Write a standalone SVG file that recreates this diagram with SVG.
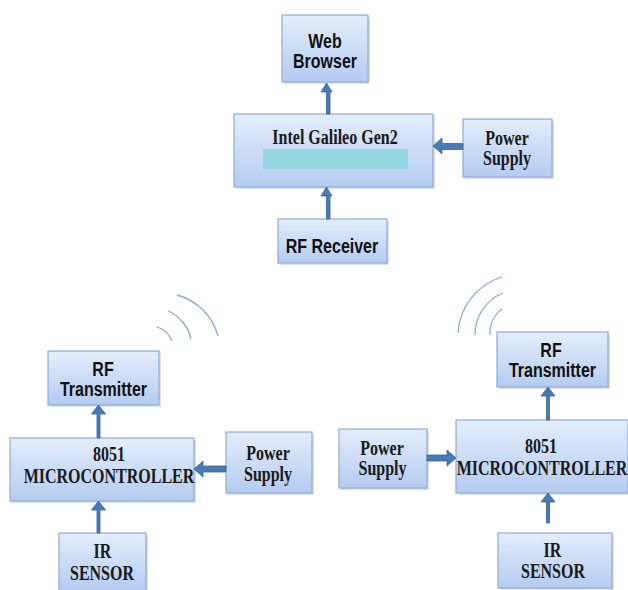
<svg xmlns="http://www.w3.org/2000/svg" width="628" height="590" viewBox="0 0 628 590">
<style>
.box{fill:url(#g);stroke:#8eabd8;stroke-width:1.2}
.sh{fill:#000;opacity:0.12}
.s{font-family:"Liberation Sans",Arial,sans-serif;font-weight:bold;font-size:16px;fill:#111;text-anchor:middle}
.t{font-family:"Liberation Serif","Times New Roman",serif;font-weight:bold;font-size:16px;fill:#1a1a1a;text-anchor:middle}
.arr{fill:#4a7ab4;stroke:#33649e;stroke-width:0.8}
.arc{fill:none;stroke:#8fa9c8;stroke-width:1.3}
</style>
<defs>
<linearGradient id="g" x1="0" y1="0" x2="0" y2="1">
<stop offset="0" stop-color="#e4edfb"/>
<stop offset="1" stop-color="#b4ccf1"/>
</linearGradient>
</defs>
<rect width="628" height="590" fill="#fff"/>

<g id="web-browser">
<rect class="sh" x="284" y="17" width="86" height="67"/>
<rect class="box" x="282" y="15" width="86" height="67"/>
<text class="s" transform="translate(325,47.5) scale(1,1.25)">Web</text>
<text class="s" transform="translate(325,68) scale(1,1.25)">Browser</text>
</g>

<g id="intel-galileo">
<rect class="sh" x="236" y="116" width="199" height="73"/>
<rect class="box" x="234" y="114" width="199" height="73"/>
<rect x="263" y="149" width="145" height="20" fill="#96d7e4"/>
<text class="t" transform="translate(335,144) scale(1,1.25)">Intel Galileo Gen2</text>
</g>

<g id="power-top">
<rect class="sh" x="465" y="121" width="89" height="58"/>
<rect class="box" x="463" y="119" width="89" height="58"/>
<text class="t" transform="translate(507,145) scale(1,1.25)">Power</text>
<text class="t" transform="translate(507,165) scale(1,1.25)">Supply</text>
</g>

<g id="rf-receiver">
<rect class="sh" x="280" y="221" width="109" height="44"/>
<rect class="box" x="278" y="219" width="109" height="44"/>
<text class="s" transform="translate(332,253) scale(1,1.25)">RF Receiver</text>
</g>

<g id="rf-tx-left">
<rect class="sh" x="50" y="353" width="111" height="54"/>
<rect class="box" x="48" y="351" width="111" height="54"/>
<text class="s" transform="translate(103,376) scale(1,1.25)">RF</text>
<text class="s" transform="translate(103.5,396) scale(1,1.25)">Transmitter</text>
</g>

<g id="mcu-left">
<rect class="sh" x="12" y="440" width="184" height="63"/>
<rect class="box" x="10" y="438" width="184" height="63"/>
<text class="t" transform="translate(109,461) scale(1,1.25)">8051</text>
<text class="t" transform="translate(109,483) scale(1,1.25)">MICROCONTROLLER</text>
</g>

<g id="power-left">
<rect class="sh" x="228" y="434" width="86" height="61"/>
<rect class="box" x="226" y="432" width="86" height="61"/>
<text class="t" transform="translate(268,460) scale(1,1.25)">Power</text>
<text class="t" transform="translate(268,481) scale(1,1.25)">Supply</text>
</g>

<g id="ir-left">
<rect class="sh" x="61" y="535" width="87" height="57"/>
<rect class="box" x="59" y="533" width="87" height="58"/>
<text class="t" transform="translate(102.5,558) scale(1,1.25)">IR</text>
<text class="t" transform="translate(102,580) scale(1,1.25)">SENSOR</text>
</g>

<g id="rf-tx-right">
<rect class="sh" x="499" y="334" width="111" height="55"/>
<rect class="box" x="497" y="332" width="111" height="55"/>
<text class="s" transform="translate(551,357) scale(1,1.25)">RF</text>
<text class="s" transform="translate(552.5,377) scale(1,1.25)">Transmitter</text>
</g>

<g id="mcu-right">
<rect class="sh" x="458" y="422" width="172" height="73"/>
<rect class="box" x="456" y="420" width="172" height="73"/>
<text class="t" transform="translate(541,453) scale(1,1.25)">8051</text>
<text class="t" transform="translate(542,475) scale(1,1.25)">MICROCONTROLLER</text>
</g>

<g id="power-right">
<rect class="sh" x="341" y="431" width="88" height="59"/>
<rect class="box" x="339" y="429" width="88" height="59"/>
<text class="t" transform="translate(382,455) scale(1,1.25)">Power</text>
<text class="t" transform="translate(382.5,475) scale(1,1.25)">Supply</text>
</g>

<g id="ir-right">
<rect class="sh" x="500" y="535" width="114" height="55"/>
<rect class="box" x="498" y="533" width="114" height="55"/>
<text class="t" transform="translate(552.5,557) scale(1,1.25)">IR</text>
<text class="t" transform="translate(553,578) scale(1,1.25)">SENSOR</text>
</g>

<g id="connectors">
<path class="arr" d="M326.5,114 V92 H321 L326.5,83 L332,92 H330 V114 Z"/>
<path class="arr" d="M326.5,219 V196 H321 L326.5,187 L332,196 H330 V219 Z"/>
<path class="arr" d="M463,143.5 H442 V138 L433,146 L442,154 V149.5 H463 Z"/>
<path class="arr" d="M97,438 V414 H91.5 L98.5,405 L105.5,414 H100 V438 Z"/>
<path class="arr" d="M97,533 V510 H91.5 L98.5,501 L105.5,510 H100 V533 Z"/>
<path class="arr" d="M226,466 H203 V461 L194,469 L203,477 V472 H226 Z"/>
<path class="arr" d="M546.5,420 V396 H541 L548,387 L555,396 H549.5 V420 Z"/>
<path class="arr" d="M546.5,523 V502 H541 L548,493 L555,502 H549.5 V523 Z"/>
<path class="arr" d="M427,455 H447 V450 L456,458 L447,466 V461 H427 Z"/>
</g>

<g id="signal-left">
<path class="arc" d="M157,327 A24 24 0 0 1 172,341"/>
<path class="arc" d="M168,311 A40 40 0 0 1 191,339"/>
<path class="arc" d="M177,295 A58 58 0 0 1 218,336"/>
</g>
<g id="signal-right">
<path class="arc" d="M502,309 A30 30 0 0 0 490,335"/>
<path class="arc" d="M503,293 A45 45 0 0 0 475,335"/>
<path class="arc" d="M502,277 A62 62 0 0 0 458,333"/>
</g>
</svg>
